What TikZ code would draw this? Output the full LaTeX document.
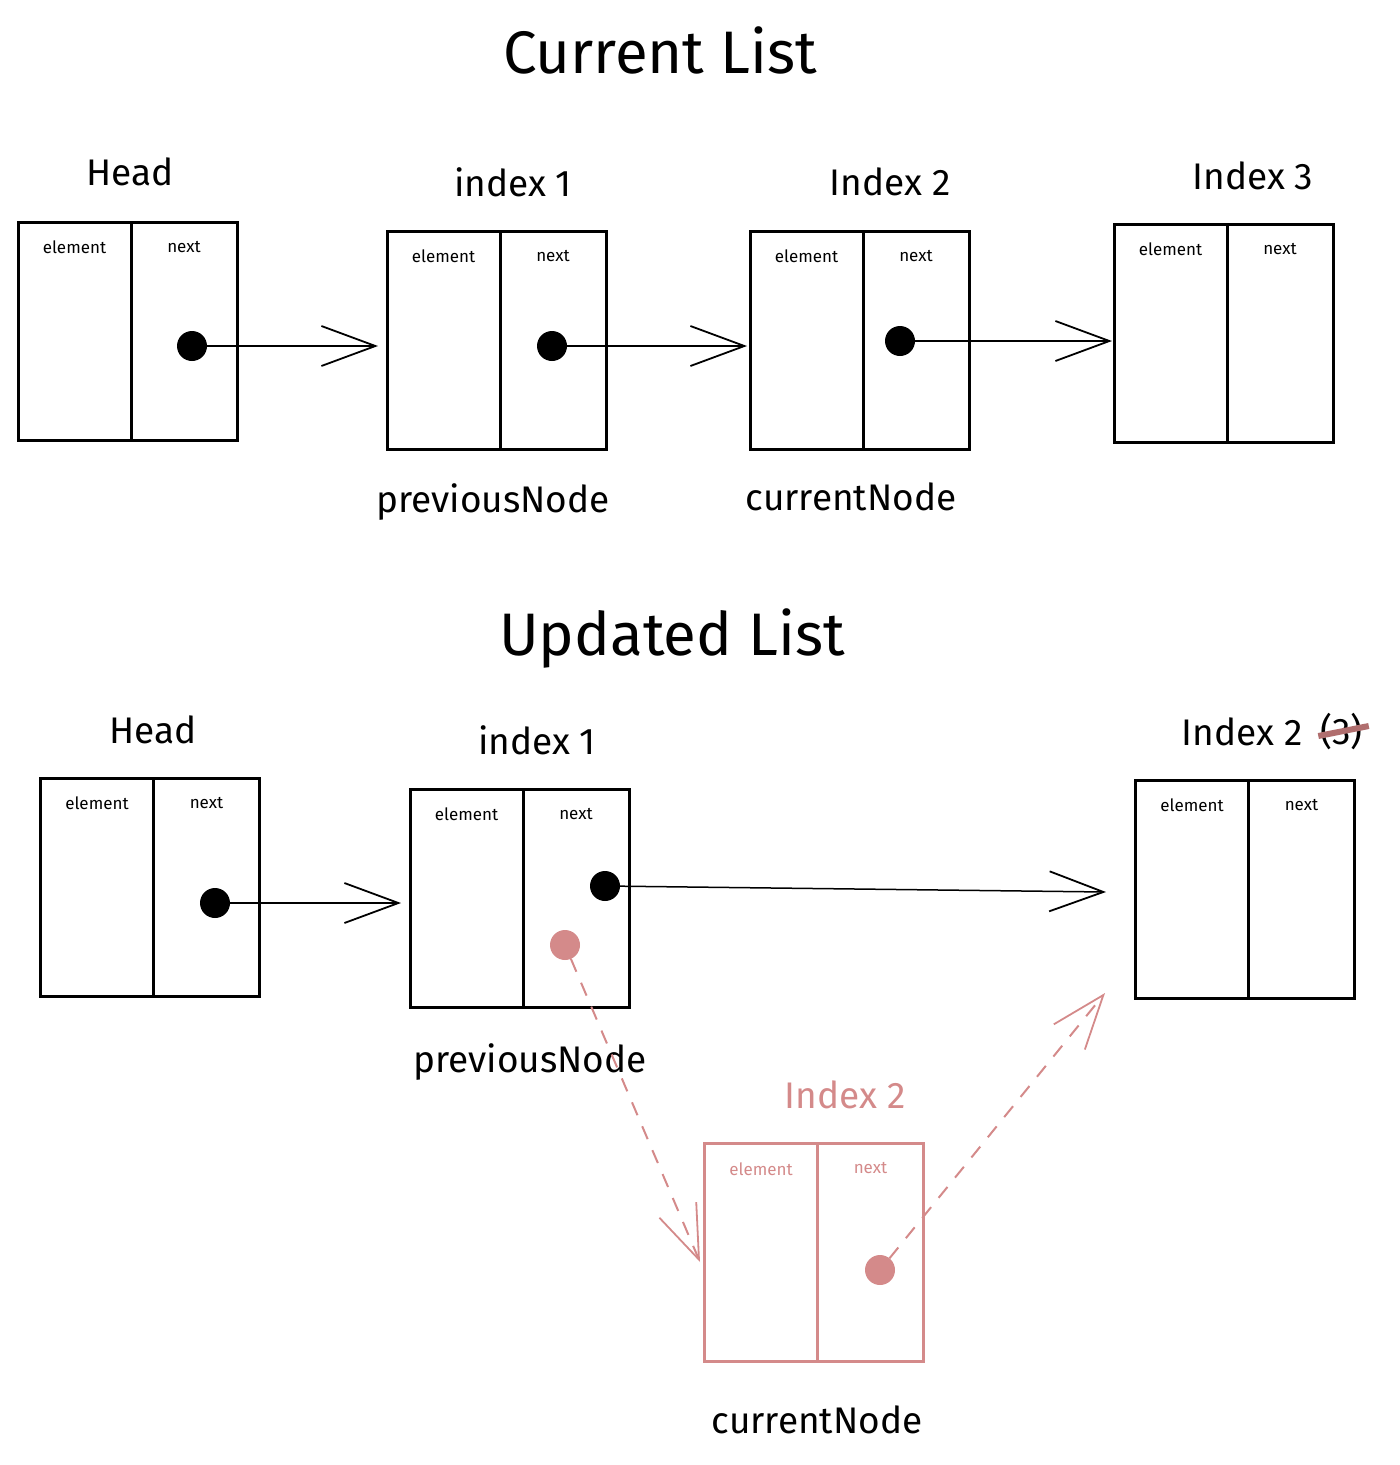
\documentclass[tikz,border=0pt]{standalone}
\usepackage{fontspec}
\setmainfont{Fira Sans}
\usetikzlibrary{positioning,arrows.meta}
\definecolor{pinkline}{RGB}{212,138,138}
\definecolor{scratchred}{RGB}{176,110,110}

\begin{document}
\begin{tikzpicture}[x=1pt,y=-1pt,
      every node/.style={inner sep=0pt,outer sep=0pt},
      cell/.style={draw,line width=3pt,minimum height=218pt,minimum width=113pt},
      nextcell/.style={cell,minimum width=106pt},
      paled/.style={draw=pinkline,line width=2.6pt},
      celltext/.style={font=\fontsize{17}{20}\selectfont},
      boxname/.style={font=\fontsize{37}{40}\selectfont},
      listtitle/.style={font=\fontsize{60}{66}\selectfont},
      dot/.style={circle,fill=black,minimum size=30pt},
      pinkdot/.style={dot,fill=pinkline},
      ptr/.style={line width=1.5pt,-{Straight Barb[length=54pt,width=40pt,line width=1.8pt]}},
      pinkptr/.style={ptr,draw=pinkline,line width=2pt,dash pattern=on 14pt off 12pt}]
    \useasboundingbox (0,0) rectangle (1400,1465);

    % current list
    \node[listtitle] (curtitle) at (660,50) {Current List};

    \node[cell] (c0) at (74.5,331) {};
    \node[nextcell,right=0pt of c0] (c0n) {};
    \node[cell] (c1) at (443.5,340) {};
    \node[nextcell,right=0pt of c1] (c1n) {};
    \node[cell] (c2) at (806.5,340) {};
    \node[nextcell,right=0pt of c2] (c2n) {};
    \node[cell] (c3) at (1170.5,333) {};
    \node[nextcell,right=0pt of c3] (c3n) {};

    \foreach \n in {c0,c1,c2,c3} {
      \node[celltext,below=19pt of \n.north] {element};
      \node[celltext,below=19pt of \n n.north] {next};
    }

    \node[boxname] (c0name) at (130,172) {Head};
    \node[boxname] (c1name) at (513,182) {index 1};
    \node[boxname] (c2name) at (890,182) {Index 2};
    \node[boxname] (c3name) at (1253,176) {Index 3};
    \node[boxname] (c1ptr) at (493,502) {previousNode};
    \node[boxname] (c2ptr) at (851,497) {currentNode};

    \node[dot] (c0dot) at (192,346) {};
    \node[dot] (c1dot) at (552,346) {};
    \node[dot] (c2dot) at (900,341) {};
    \draw[ptr,shorten >=9pt] (c0dot) -- (c1.west |- c0dot);
    \draw[ptr,shorten >=3pt] (c1dot) -- (c2.west |- c1dot);
    \draw[ptr,shorten >=2pt] (c2dot) -- (c3.west |- c2dot);

    % updated list
    \node[listtitle] (updtitle) at (672,638) {Updated List};

    \node[cell] (u0) at (97,887) {};
    \node[nextcell,right=0pt of u0] (u0n) {};
    \node[cell] (u1) at (466.5,898) {};
    \node[nextcell,right=0pt of u1] (u1n) {};
    \node[cell] (u3) at (1192,889) {};
    \node[nextcell,right=0pt of u3] (u3n) {};
    \node[cell,paled] (u2) at (761,1252.5) {};
    \node[nextcell,paled,right=0pt of u2] (u2n) {};

    \foreach \n in {u0,u1,u3} {
      \node[celltext,below=19pt of \n.north] {element};
      \node[celltext,below=19pt of \n n.north] {next};
    }
    \node[celltext,text=pinkline,below=19pt of u2.north] {element};
    \node[celltext,text=pinkline,below=19pt of u2n.north] {next};

    \node[boxname] (u0name) at (153,730) {Head};
    \node[boxname] (u1name) at (537,740) {index 1};
    \node[boxname] (u3name) at (1242,732) {Index 2};
    \node[boxname,right=18pt of u3name] (u3old) {(3)};
    \draw[scratchred,line width=6pt] ([xshift=-2pt,yshift=-4pt]u3old.west) -- ([xshift=6pt,yshift=6pt]u3old.east);
    \node[boxname,text=pinkline] (u2name) at (845,1095) {Index 2};
    \node[boxname] (u1ptr) at (530,1062) {previousNode};
    \node[boxname] (u2ptr) at (817,1420) {currentNode};

    \node[dot] (u0dot) at (215,903) {};
    \node[dot] (u1dot) at (605,886) {};
    \node[pinkdot] (u1old) at (565,945) {};
    \node[pinkdot] (u2dot) at (880,1270) {};
    \coordinate (u3in) at (1106,892);
    \coordinate (u2in) at (700,1262);
    \coordinate (u3low) at (1105,993);

    \draw[ptr,shorten >=9pt] (u0dot) -- (u1.west |- u0dot);
    \draw[ptr] (u1dot) -- (u3in);
    \draw[pinkptr] (u1old) -- (u2in);
    \draw[pinkptr] (u2dot) -- (u3low);
\end{tikzpicture}
\end{document}
